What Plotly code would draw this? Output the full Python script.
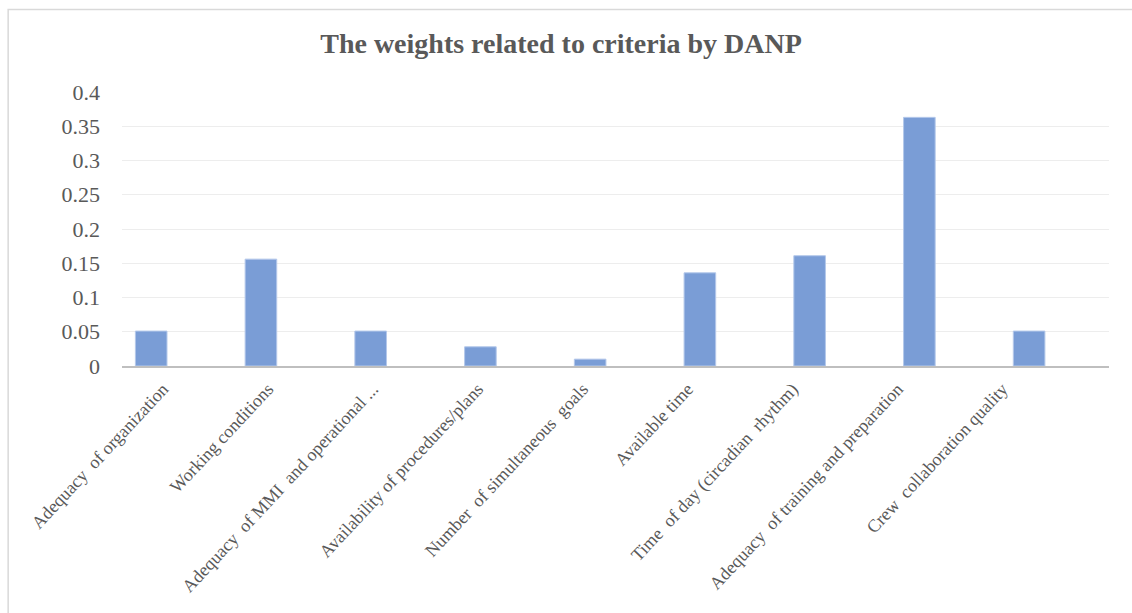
import plotly.graph_objects as go

# Criteria and their DANP weights
criteria = [
    "Adequacy  of organization",
    "Working conditions",
    "Adequacy  of MMI  and operational ...",
    "Availability of procedures/plans",
    "Number  of simultaneous  goals",
    "Available time",
    "Time  of day (circadian  rhythm)",
    "Adequacy  of training and preparation",
    "Crew  collaboration quality",
]
weights = [0.051, 0.156, 0.051, 0.028, 0.010, 0.136, 0.161, 0.363, 0.051]

y_ticks = [0, 0.05, 0.1, 0.15, 0.2, 0.25, 0.3, 0.35, 0.4]
y_tick_text = ["0", "0.05", "0.1", "0.15", "0.2", "0.25", "0.3", "0.35", "0.4"]

SERIF = "Liberation Serif, Times New Roman, serif"
TEXT_GREY = "#595959"
positions = list(range(len(criteria)))

fig = go.Figure()

# The bars themselves
fig.add_trace(
    go.Bar(
        x=positions,
        y=weights,
        width=0.288,
        marker=dict(color="#7a9dd6", line=dict(color="#b4c8ea", width=1)),
        hoverinfo="y",
    )
)

# Invisible companion trace that carries the category label axis
fig.add_trace(
    go.Scatter(
        x=positions,
        y=weights,
        xaxis="x2",
        mode="markers",
        marker=dict(opacity=0),
        hoverinfo="skip",
        showlegend=False,
    )
)

fig.update_layout(
    width=1132,
    height=613,
    margin=dict(l=122, r=23, t=92, b=247),
    paper_bgcolor="white",
    plot_bgcolor="white",
    showlegend=False,
    title=dict(
        text="<b>The weights related to criteria by DANP</b>",
        x=0.4956,
        xref="container",
        xanchor="center",
        y=1 - 43 / 613,
        yref="container",
        yanchor="middle",
        font=dict(family=SERIF, size=28, color=TEXT_GREY),
    ),
    xaxis=dict(
        range=[-0.266, 8.728],
        showticklabels=False,
        showgrid=False,
        showline=True,
        linecolor="#bfbfbf",
        linewidth=2,
        ticks="",
        automargin=False,
        zeroline=False,
    ),
    xaxis2=dict(
        overlaying="x",
        anchor="y",
        side="bottom",
        range=[-0.39, 9.016],
        tickmode="array",
        tickvals=positions,
        ticktext=criteria,
        tickangle=-47,
        tickfont=dict(family=SERIF, size=18, color=TEXT_GREY),
        ticklabelstandoff=8,
        showgrid=False,
        showline=False,
        ticks="",
        automargin=False,
        zeroline=False,
    ),
    yaxis=dict(
        range=[0, 0.4],
        tickmode="array",
        tickvals=y_ticks,
        ticktext=y_tick_text,
        tickfont=dict(family=SERIF, size=22, color=TEXT_GREY),
        showgrid=True,
        gridcolor="#ededed",
        gridwidth=1,
        zeroline=False,
        showline=False,
        ticks="",
        ticklabelstandoff=21,
        automargin=False,
    ),
    shapes=[
        dict(
            type="rect",
            xref="paper",
            yref="paper",
            x0=(8.5 - 122.3) / 986.7,
            x1=1.06,
            y0=-1.2,
            y1=(366 - 9.5) / 274,
            line=dict(color="#d9d9d9", width=1.5),
            fillcolor="rgba(0,0,0,0)",
            layer="below",
        )
    ],
)

fig.write_html("out.html")
